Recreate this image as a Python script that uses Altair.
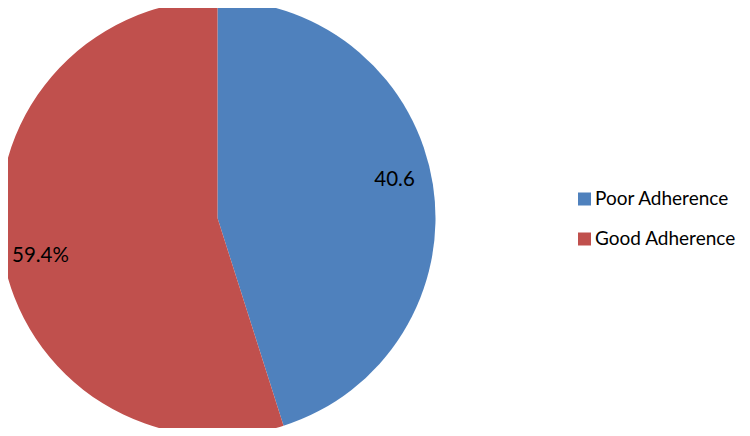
import altair as alt
import pandas as pd

categories = ["Poor Adherence", "Good Adherence"]
shares = [45.1, 54.9]          # slice sizes as drawn
labels = ["40.6", "59.4%"]     # label texts as printed
colors = ["#4F81BD", "#C0504D"]

df = pd.DataFrame({"category": categories, "share": shares, "label": labels,
                   "order": [0, 1]})

FONT = "Lato"
cx, cy, R = 209.5, 210, 218

base = alt.Chart(df).encode(
    theta=alt.Theta("share:Q", stack=True),
    order=alt.Order("order:Q"),
)

pie = base.mark_arc(outerRadius=R, stroke=None).encode(
    x=alt.value(cx), y=alt.value(cy),
    color=alt.Color(
        "category:N",
        scale=alt.Scale(domain=categories, range=colors),
        sort=categories,
        legend=alt.Legend(
            title=None, orient="none", legendX=567, legendY=181.5,
            symbolType="square", symbolSize=169, symbolStrokeWidth=0,
            labelFont=FONT, labelFontSize=19, labelColor="#000000",
            rowPadding=20, labelOffset=1, padding=0, labelLimit=300,
        ),
    ),
)

text = base.mark_text(radius=181, thetaOffset=-0.056, font=FONT, fontSize=20.5,
                      color="#000000").encode(
    x=alt.value(cx), y=alt.value(cy),
    text="label:N",
)

chart = (pie + text).properties(
    width=734, height=420, padding=0, autosize=alt.AutoSizeParams(type="none"),
    background="#ffffff",
).configure_view(stroke=None)

chart.save("out.html", embed_options={"renderer": "svg", "actions": False})
